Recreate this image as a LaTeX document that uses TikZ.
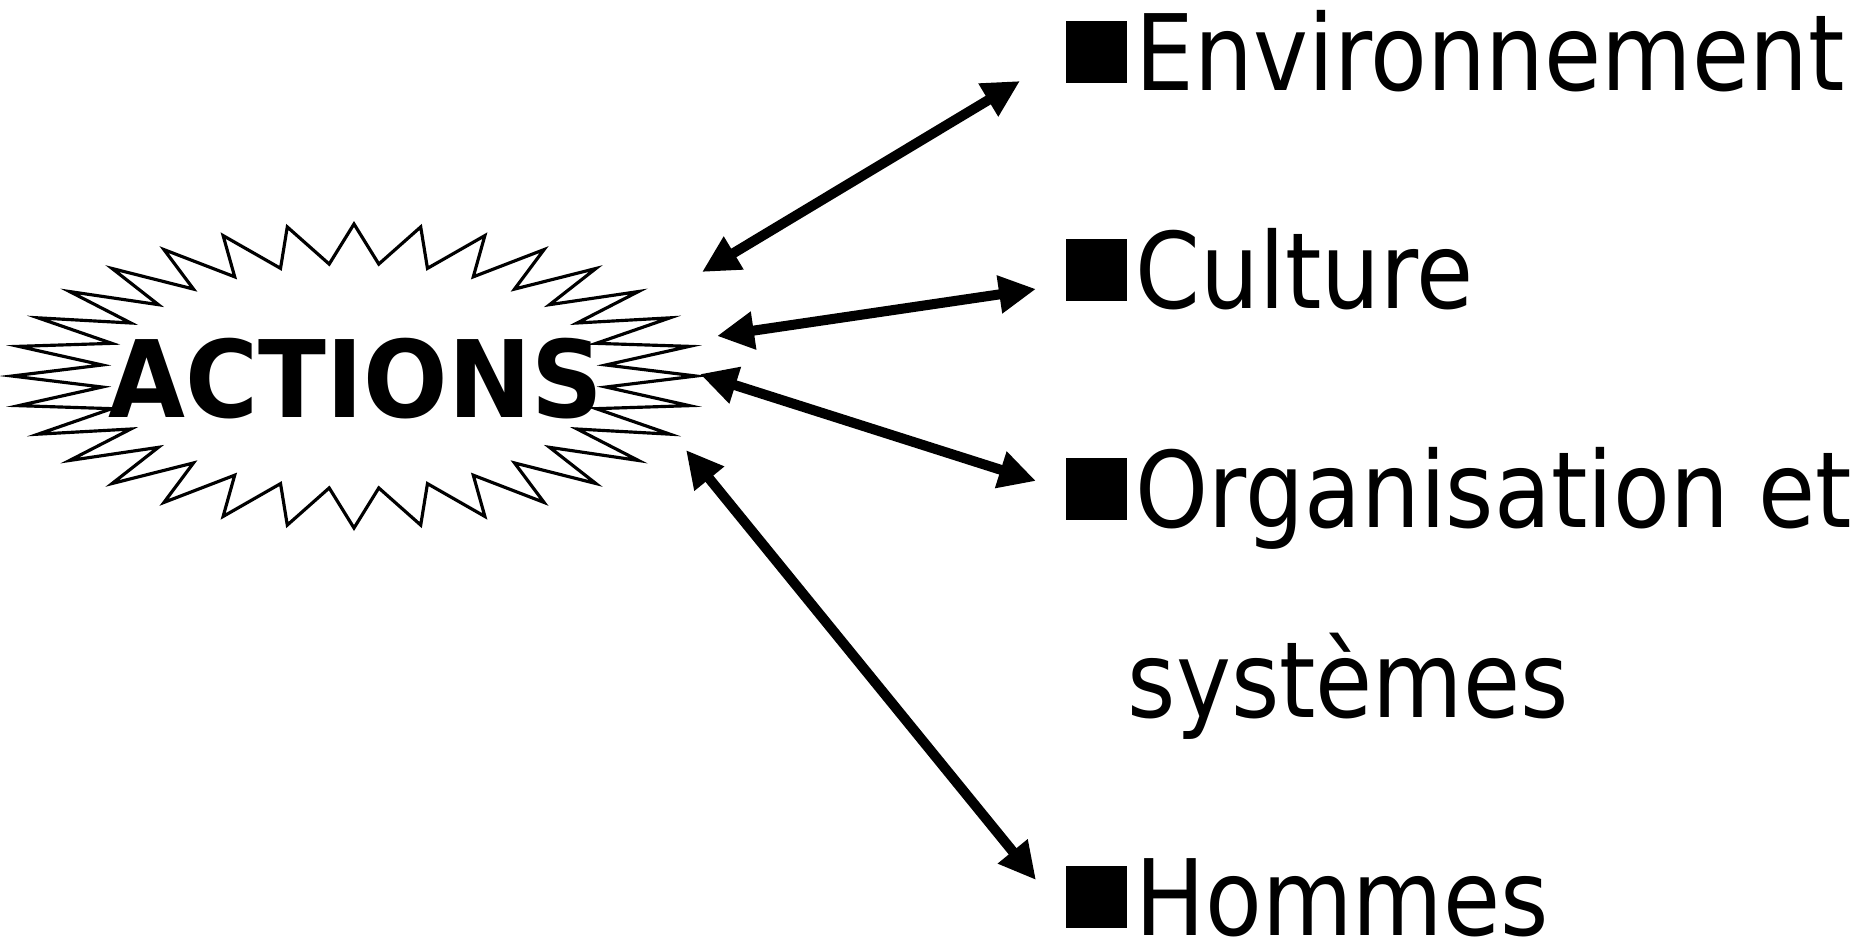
\documentclass[tikz,border=0pt]{standalone}
\usepackage{fontspec}
\usetikzlibrary{arrows.meta}
\newfontfamily\labfont[FakeStretch=0.88]{DejaVu Sans}
\newfontfamily\actfont[FakeStretch=0.93]{DejaVu Sans}
\newcommand{\sqbullet}{\raisebox{0.07cm}{\rule{0.61cm}{0.62cm}}\hspace{0.09cm}}

\begin{document}
\begin{tikzpicture}[x=0.01cm, y=-0.01cm,
  lab/.style={anchor=base west, inner sep=0pt, align=left,
    font=\labfont\fontsize{30}{54}\selectfont},
  link/.style={{Triangle[length=0.37cm,width=0.36cm]}-{Triangle[length=0.37cm,width=0.36cm]},
    line width=0.1cm}]
  \useasboundingbox (0,0) rectangle (1876,939);
  % 爆炸星形，32 个尖
  \draw[line width=0.9pt] (696,376)
    \foreach \k [evaluate=\k as \f using {1-0.26*mod(\k,2)}] in {1,...,63}
      { -- ({354+342*\f*cos(\k*5.625)}, {376-152*\f*sin(\k*5.625)}) } -- cycle;
  \node[inner sep=0pt, font=\actfont\bfseries\fontsize{30.4}{36}\selectfont] (act) at (356,379) {ACTIONS};

  % 右侧四项（多行节点的 base 在最后一行）
  \node[lab] (env) at (1065,90) {\sqbullet Environnement};
  \node[lab] (cul) at (1065,308) {\sqbullet Culture};
  \node[lab] (org) at (1065,717) {\sqbullet Organisation et\\\hspace*{0.62cm}systèmes};
  \node[lab] (hom) at (1065,935) {\sqbullet Hommes};

  % 箭头两端
  \coordinate (envL) at (702,272);  \coordinate (envR) at (1020,81);
  \coordinate (culL) at (717,336);  \coordinate (culR) at (1036,289);
  \coordinate (orgL) at (700,374);  \coordinate (orgR) at (1036,481);
  \coordinate (homL) at (686,450);  \coordinate (homR) at (1036,880);

  \draw[link] (envL) -- (envR);
  \draw[link] (culL) -- (culR);
  \draw[link] (orgL) -- (orgR);
  \draw[link] (homL) -- (homR);
\end{tikzpicture}
\end{document}
